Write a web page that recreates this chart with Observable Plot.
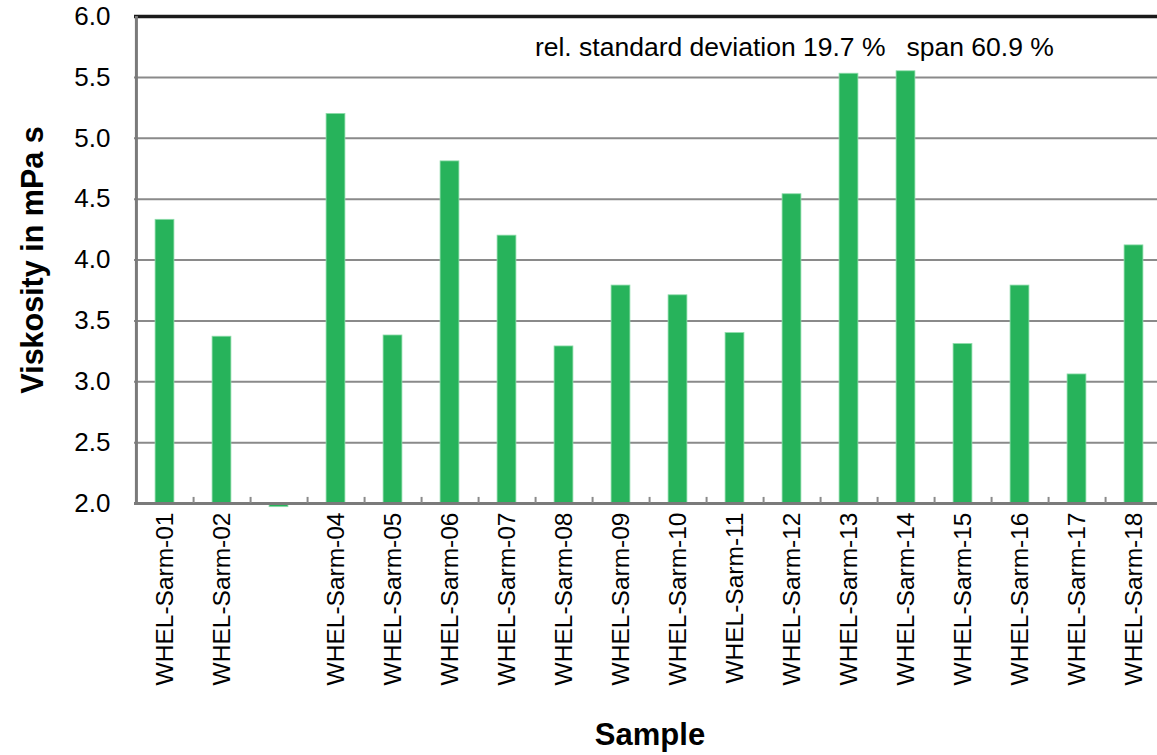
<!DOCTYPE html>
<html>
<head>
<meta charset="utf-8">
<script src="https://cdn.jsdelivr.net/npm/d3@7"></script>
<script src="https://cdn.jsdelivr.net/npm/@observablehq/plot@0.6"></script>
<style>
  html, body { margin: 0; padding: 0; background: #fff; }
  svg { display: block; }
</style>
</head>
<body>
<div id="chart"></div>
<script>
// ---- data ----
const sampleIds = ["01","02","03","04","05","06","07","08","09","10","11","12","13","14","15","16","17","18"];
const sampleLabels = ["WHEL-Sarm-01","WHEL-Sarm-02","","WHEL-Sarm-04","WHEL-Sarm-05","WHEL-Sarm-06","WHEL-Sarm-07","WHEL-Sarm-08","WHEL-Sarm-09","WHEL-Sarm-10","WHEL-Sarm-11","WHEL-Sarm-12","WHEL-Sarm-13","WHEL-Sarm-14","WHEL-Sarm-15","WHEL-Sarm-16","WHEL-Sarm-17","WHEL-Sarm-18"];
const viscosity = [4.33, 3.37, 0, 5.20, 3.38, 4.81, 4.20, 3.29, 3.79, 3.71, 3.40, 4.54, 5.53, 5.55, 3.31, 3.79, 3.06, 4.12];
const yTicks = [2.0, 2.5, 3.0, 3.5, 4.0, 4.5, 5.0, 5.5, 6.0];
const gridValues = [2.5, 3.0, 3.5, 4.0, 4.5, 5.0, 5.5];
const annotationLeft = "rel. standard deviation 19.7 %";
const annotationRight = "span 60.9 %";
const yLabel = "Viskosity in mPa s";
const xLabel = "Sample";

const rows = sampleIds.map((id, i) => ({id, label: sampleLabels[i], value: viscosity[i]}));
const labelOf = new Map(rows.map(r => [r.id, r.label]));

const W = 1157, H = 755;
const left = 134;
const xRange = [left, 1163];
const bw = (xRange[1] - xRange[0]) / sampleIds.length;
const green = "#27b35b";

const chart = Plot.plot({
  width: W,
  height: H,
  marginLeft: left,
  marginRight: 0,
  marginTop: 16,
  marginBottom: 252,
  style: {fontFamily: "'Liberation Sans', Arial, sans-serif", fontSize: "24px", color: "#000", background: "#fff"},
  x: {domain: sampleIds, range: xRange, padding: 0},
  y: {domain: [2, 6]},
  marks: [
    // gridlines
    Plot.ruleY(gridValues, {stroke: "#8a8a8a", strokeWidth: 2, strokeOpacity: 1}),
    // bars (values below the axis minimum are clipped to a thin sliver under the axis)
    Plot.barY(rows, {
      x: "id",
      y1: 2,
      y2: d => Math.max(d.value, 1.97),
      fill: green,
      stroke: "#8fdcab",
      strokeWidth: 0.8,
      insetLeft: (bw - 19) / 2,
      insetRight: (bw - 19) / 2
    }),
    // top border
    Plot.ruleY([6], {stroke: "#1a1a1a", strokeWidth: 3.5, strokeOpacity: 1}),
    // bottom axis line
    Plot.ruleY([2], {stroke: "#7a7a7a", strokeWidth: 3, strokeOpacity: 1}),
    // left axis line
    Plot.ruleX([sampleIds[0]], {dx: -bw / 2, y1: 2, y2: 6, stroke: "#7a7a7a", strokeWidth: 3, strokeOpacity: 1}),
    // tick marks at band boundaries
    Plot.ruleX(sampleIds.slice(0, -1), {dx: bw / 2, y1: 2, y2: 2.05, stroke: "#8a8a8a", strokeWidth: 2, strokeOpacity: 1}),
    // axes
    Plot.axisY({
      ticks: yTicks,
      tickFormat: d3.format(".1f"),
      tickSize: 0,
      tickPadding: 24,
      fontSize: 26,
      label: null
    }),
    Plot.axisX({
      tickFormat: d => labelOf.get(d),
      tickRotate: -90,
      tickSize: 0,
      tickPadding: 9,
      fontSize: 24.5,
      label: null
    }),
    // axis titles
    Plot.text([yLabel], {
      frameAnchor: "left",
      dx: -101,
      rotate: -90,
      fontSize: 30.5,
      fontWeight: "bold",
      textAnchor: "middle",
      lineAnchor: "middle"
    }),
    Plot.text([xLabel], {
      frameAnchor: "bottom",
      dy: 232,
      dx: 4,
      fontSize: 31,
      fontWeight: "bold",
      textAnchor: "middle",
      lineAnchor: "middle"
    }),
    // annotation
    Plot.text([annotationLeft], {
      frameAnchor: "top-left",
      dx: 751,
      dy: 31,
      fontSize: 26.5,
      textAnchor: "end",
      lineAnchor: "middle"
    }),
    Plot.text([annotationRight], {
      frameAnchor: "top-left",
      dx: 772,
      dy: 31,
      fontSize: 26.5,
      textAnchor: "start",
      lineAnchor: "middle"
    })
  ]
});

document.getElementById("chart").appendChild(chart);
</script>
</body>
</html>
